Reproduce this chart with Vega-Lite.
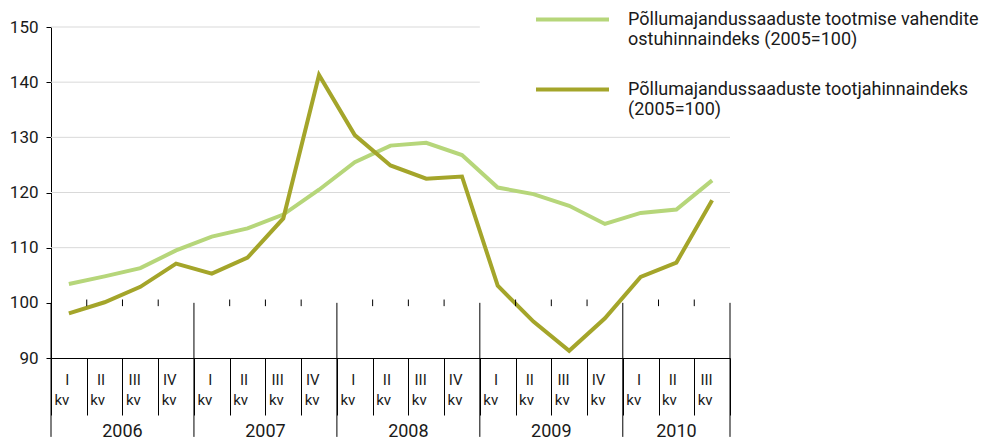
{
  "$schema": "https://vega.github.io/schema/vega-lite/v6.json",
  "width": 679,
  "height": 331,
  "autosize": "none",
  "padding": {"left": 51, "top": 27, "right": 260, "bottom": 84},
  "background": "white",
  "config": {"font": "Roboto", "view": {"stroke": null}},
  "datasets": {
    "quarters": [
      {"q": "2006 I", "year": "2006", "qn": "I", "input": 103.4, "output": 98.1},
      {"q": "2006 II", "year": "2006", "qn": "II", "input": 104.8, "output": 100.1},
      {"q": "2006 III", "year": "2006", "qn": "III", "input": 106.3, "output": 102.9},
      {"q": "2006 IV", "year": "2006", "qn": "IV", "input": 109.5, "output": 107.1},
      {"q": "2007 I", "year": "2007", "qn": "I", "input": 112.0, "output": 105.3},
      {"q": "2007 II", "year": "2007", "qn": "II", "input": 113.5, "output": 108.2},
      {"q": "2007 III", "year": "2007", "qn": "III", "input": 116.0, "output": 115.3},
      {"q": "2007 IV", "year": "2007", "qn": "IV", "input": 120.5, "output": 141.3},
      {"q": "2008 I", "year": "2008", "qn": "I", "input": 125.5, "output": 130.4},
      {"q": "2008 II", "year": "2008", "qn": "II", "input": 128.5, "output": 124.9},
      {"q": "2008 III", "year": "2008", "qn": "III", "input": 129.0, "output": 122.5},
      {"q": "2008 IV", "year": "2008", "qn": "IV", "input": 126.8, "output": 122.9},
      {"q": "2009 I", "year": "2009", "qn": "I", "input": 120.9, "output": 103.1},
      {"q": "2009 II", "year": "2009", "qn": "II", "input": 119.7, "output": 96.6},
      {"q": "2009 III", "year": "2009", "qn": "III", "input": 117.6, "output": 91.3},
      {"q": "2009 IV", "year": "2009", "qn": "IV", "input": 114.3, "output": 97.2},
      {"q": "2010 I", "year": "2010", "qn": "I", "input": 116.3, "output": 104.7},
      {"q": "2010 II", "year": "2010", "qn": "II", "input": 116.9, "output": 107.3},
      {"q": "2010 III", "year": "2010", "qn": "III", "input": 122.2, "output": 118.6}
    ],
    "grid": [{"g": 110}, {"g": 120}, {"g": 130}],
    "gridTop": [{"g": 140}, {"g": 150}]
  },
  "layer": [
    {
      "data": {"name": "grid"},
      "mark": {"type": "rule", "color": "#d9d9d9", "strokeWidth": 1},
      "encoding": {
        "y": {"field": "g", "type": "quantitative", "title": null, "scale": {"domain": [90, 150], "nice": false, "zero": false}}
      }
    },
    {
      "data": {"name": "gridTop"},
      "mark": {"type": "rule", "color": "#d9d9d9", "strokeWidth": 1, "x2Offset": -17.87},
      "encoding": {
        "x": {"datum": "2006 I", "type": "ordinal", "title": null, "bandPosition": 0, "scale": {"type": "band", "paddingInner": 0, "paddingOuter": 0}},
        "x2": {"datum": "2009 I"},
        "y": {"field": "g", "type": "quantitative", "title": null, "scale": {"domain": [90, 150], "nice": false, "zero": false}}
      }
    },
    {
      "data": {"name": "quarters"},
      "transform": [{"fold": ["input", "output"], "as": ["s", "v"]}],
      "mark": {"type": "line", "strokeWidth": 4, "strokeJoin": "miter"},
      "encoding": {
        "x": {
          "field": "q", "type": "ordinal", "bandPosition": 0.5, "sort": null, "title": null,
          "scale": {"type": "band", "paddingInner": 0, "paddingOuter": 0},
          "axis": {
            "title": null, "orient": "bottom", "domain": true, "domainColor": "#000000", "domainWidth": 1,
            "ticks": true, "tickBand": "extent", "tickSize": 57, "tickColor": "#000000", "tickWidth": 1,
            "labelExpr": "length(split(datum.label, ' ')) > 1 ? [split(datum.label, ' ')[1], 'kv'] : ''",
            "labelAngle": 0, "labelPadding": -43, "labelFontSize": 15, "labelLineHeight": 20,
            "labelColor": "#1a1a1a", "labelBaseline": "top", "grid": false
          }
        },
        "y": {
          "field": "v", "type": "quantitative", "title": null,
          "scale": {"domain": [90, 150], "nice": false, "zero": false},
          "axis": {
            "title": null, "values": [90, 100, 110, 120, 130, 140, 150], "grid": false,
            "domainColor": "#000000", "tickColor": "#000000", "tickSize": 5,
            "labelFontSize": 17, "labelColor": "#1a1a1a", "labelPadding": 8
          }
        },
        "color": {
          "field": "s", "type": "nominal",
          "scale": {"domain": ["input", "output"], "range": ["#b6d67a", "#a4a52a"]},
          "legend": {
            "orient": "none", "legendX": 483, "legendY": -46, "title": null,
            "symbolType": "stroke", "symbolSize": 5329, "symbolStrokeWidth": 4,
            "labelFontSize": 18, "labelLimit": 0, "labelOffset": 17, "labelColor": "#1a1a1a",
            "labelLineHeight": 21,
            "labelExpr": "datum.label == 'input' ? ['Põllumajandussaaduste tootmise vahendite', 'ostuhinnaindeks (2005=100)'] : ['Põllumajandussaaduste tootjahinnaindeks', '(2005=100)']"
          }
        }
      }
    },
    {
      "mark": {"type": "rule", "color": "#000000", "strokeWidth": 1},
      "encoding": {
        "y": {"datum": 100, "type": "quantitative", "scale": {"domain": [90, 150], "nice": false, "zero": false}}
      }
    },
    {
      "data": {"name": "quarters"},
      "transform": [{"filter": "datum.qn != 'I'"}],
      "mark": {"type": "rule", "color": "#000000", "strokeWidth": 1},
      "encoding": {
        "x": {"field": "q", "type": "ordinal", "title": null, "bandPosition": 0, "scale": {"type": "band", "paddingInner": 0, "paddingOuter": 0}},
        "y": {"datum": 100.6, "type": "quantitative", "scale": {"domain": [90, 150], "nice": false, "zero": false}},
        "y2": {"datum": 99.4}
      }
    },
    {
      "data": {"name": "quarters"},
      "transform": [{"filter": "datum.qn == 'I'"}],
      "mark": {"type": "rule", "color": "#000000", "strokeWidth": 1},
      "encoding": {
        "x": {"field": "q", "type": "ordinal", "title": null, "bandPosition": 0, "scale": {"type": "band", "paddingInner": 0, "paddingOuter": 0}},
        "y": {"datum": 100, "type": "quantitative", "scale": {"domain": [90, 150], "nice": false, "zero": false}},
        "y2": {"datum": 75.7}
      }
    },
    {
      "data": {"name": "quarters"},
      "transform": [{"filter": "datum.q == '2010 III'"}],
      "mark": {"type": "rule", "color": "#000000", "strokeWidth": 1},
      "encoding": {
        "x": {"field": "q", "type": "ordinal", "title": null, "bandPosition": 1, "scale": {"type": "band", "paddingInner": 0, "paddingOuter": 0}},
        "y": {"datum": 100, "type": "quantitative", "scale": {"domain": [90, 150], "nice": false, "zero": false}},
        "y2": {"datum": 75.7}
      }
    },
    {
      "data": {"name": "quarters"},
      "transform": [{"filter": "datum.qn == 'II' && datum.year != '2010'"}],
      "mark": {"type": "text", "fontSize": 18, "color": "#1a1a1a", "baseline": "middle"},
      "encoding": {
        "x": {"field": "q", "type": "ordinal", "title": null, "bandPosition": 1, "scale": {"type": "band", "paddingInner": 0, "paddingOuter": 0}},
        "y": {"datum": 76.6, "type": "quantitative", "scale": {"domain": [90, 150], "nice": false, "zero": false}},
        "text": {"field": "year"}
      }
    },
    {
      "data": {"name": "quarters"},
      "transform": [{"filter": "datum.q == '2010 II'"}],
      "mark": {"type": "text", "fontSize": 18, "color": "#1a1a1a", "baseline": "middle"},
      "encoding": {
        "x": {"field": "q", "type": "ordinal", "title": null, "bandPosition": 0.5, "scale": {"type": "band", "paddingInner": 0, "paddingOuter": 0}},
        "y": {"datum": 76.6, "type": "quantitative", "scale": {"domain": [90, 150], "nice": false, "zero": false}},
        "text": {"field": "year"}
      }
    }
  ]
}
